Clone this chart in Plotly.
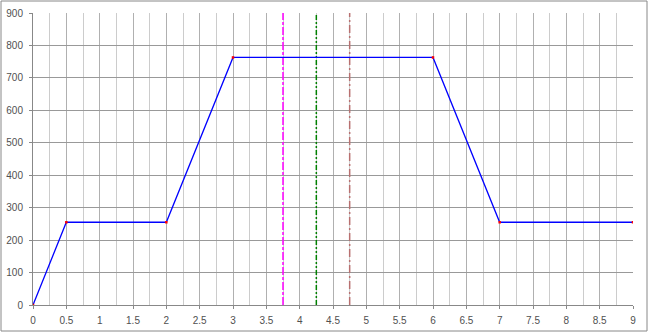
import plotly.graph_objects as go

# data
x_vals = [0, 0.5, 2, 3, 6, 7, 9]
y_vals = [0, 255, 255, 763, 763, 255, 255]
vline_x = [3.75, 4.25, 4.75]
vline_colors = ["#ff00ff", "#008000", "#b87070"]
vline_dash = ["8px,2px,3px,2px", "5px,2px,2px,2px,2px,2px", "8px,3px,2px,3px"]
x_tickvals = [0, 0.5, 1, 1.5, 2, 2.5, 3, 3.5, 4, 4.5, 5, 5.5, 6, 6.5, 7, 7.5, 8, 8.5, 9]
x_ticktext = ["0", "0.5", "1", "1.5", "2", "2.5", "3", "3.5", "4", "4.5", "5", "5.5", "6", "6.5", "7", "7.5", "8", "8.5", "9"]
y_tickvals = [0, 100, 200, 300, 400, 500, 600, 700, 800, 900]

W, H = 649, 333
ML, MR, MT, MB = 33, 16, 13, 28
pw, ph = W - ML - MR, H - MT - MB

fig = go.Figure()
for vx, c, d in zip(vline_x, vline_colors, vline_dash):
    fig.add_trace(go.Scatter(x=[vx, vx], y=[0, 900], mode="lines",
                             line=dict(color=c, width=1.5, dash=d),
                             showlegend=False, hoverinfo="skip"))
fig.add_trace(go.Scatter(x=x_vals, y=y_vals, mode="lines+markers",
                         line=dict(color="#0000ff", width=1.3),
                         marker=dict(color="#ff0000", size=2.5, symbol="square"),
                         showlegend=False))

font = dict(family="Liberation Sans", size=10, color="#505050")
fig.update_xaxes(range=[0, 9], tickvals=x_tickvals, ticktext=x_ticktext,
                 showgrid=True, gridcolor="#b0b0b0", gridwidth=1,
                 minor=dict(dtick=0.25, showgrid=True, gridcolor="#cccccc", gridwidth=1),
                 showline=True, linecolor="#888888", linewidth=1,
                 ticks="outside", ticklen=3, tickcolor="#888888",
                 ticklabelstandoff=3, automargin=False,
                 zeroline=False, tickfont=font)
fig.update_yaxes(range=[0, 900], tickvals=y_tickvals,
                 showgrid=True, gridcolor="#999999", gridwidth=1,
                 showline=True, linecolor="#888888", linewidth=1,
                 ticks="outside", ticklen=3, tickcolor="#888888",
                 ticklabelstandoff=4, automargin=False,
                 zeroline=False, tickfont=font)

fig.add_shape(type="rect", xref="paper", yref="paper",
              x0=(1 - ML) / pw, x1=(W - 2 - ML) / pw,
              y0=-(MB - 2) / ph,
              y1=1 + (MT - 1) / ph,
              line=dict(color="#888888", width=1), layer="below")

fig.update_layout(width=W, height=H, margin=dict(l=ML, r=MR, t=MT, b=MB),
                  plot_bgcolor="white", paper_bgcolor="white")
fig.write_html("out.html")
